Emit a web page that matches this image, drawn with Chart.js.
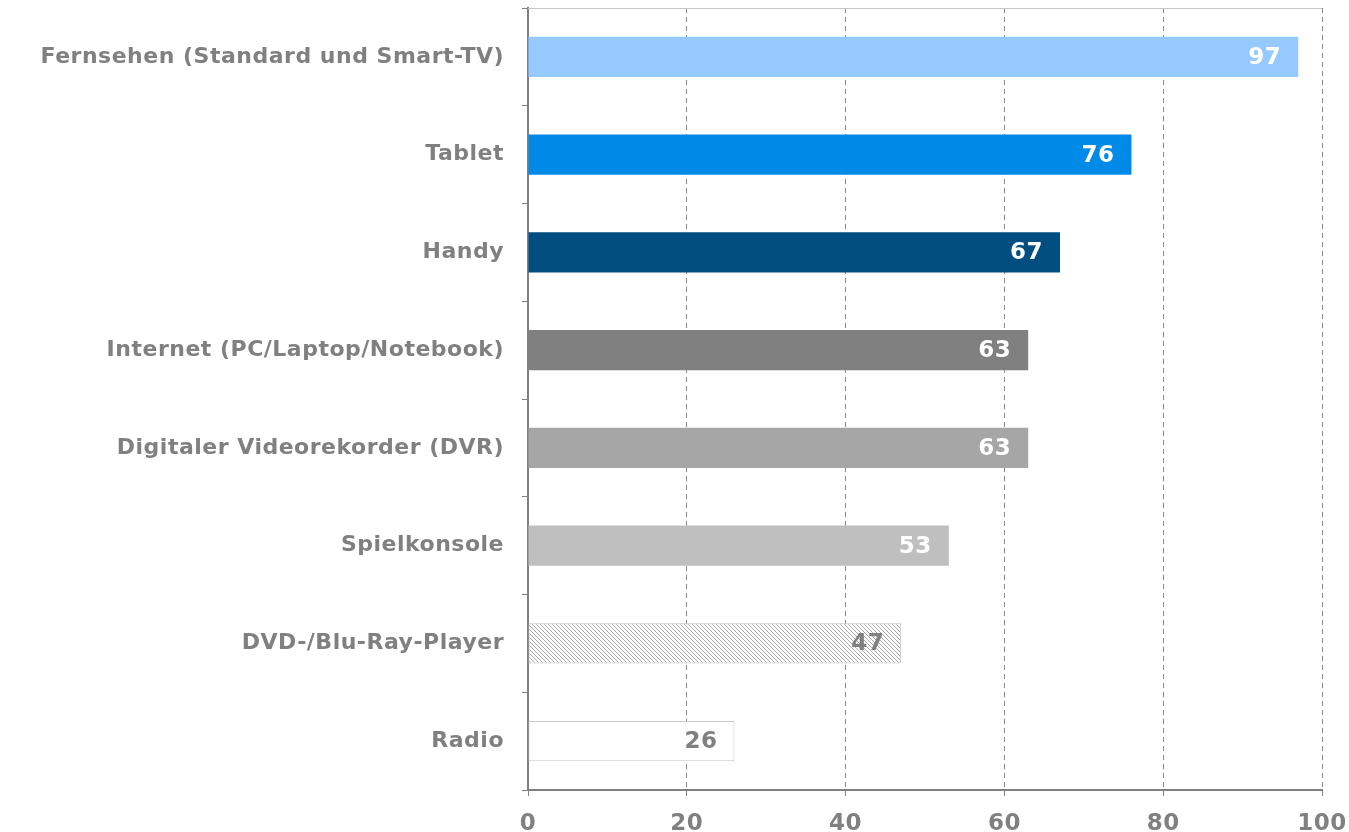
<!DOCTYPE html>
<html>
<head>
<meta charset="utf-8">
<script src="https://cdn.jsdelivr.net/npm/chart.js@4"></script>
<style>
  html, body { margin: 0; padding: 0; background: #fff; }
  #wrap { width: 1349px; height: 832px; position: relative; }
</style>
</head>
<body>
<div id="wrap"><canvas id="chart"></canvas></div>
<script>
const categories = [
  "Fernsehen (Standard und Smart-TV)",
  "Tablet",
  "Handy",
  "Internet (PC/Laptop/Notebook)",
  "Digitaler Videorekorder (DVR)",
  "Spielkonsole",
  "DVD-/Blu-Ray-Player",
  "Radio"
];
const values = [97, 76, 67, 63, 63, 53, 47, 26];
const xTicks = [0, 20, 40, 60, 80, 100];

const gray = "#808080";
const fontFamily = "'DejaVu Sans', Verdana, sans-serif";

// diagonal hatch for the DVD bar
function hatch() {
  const c = document.createElement("canvas");
  c.width = 4; c.height = 4;
  const g = c.getContext("2d");
  g.fillStyle = "#fff";
  g.fillRect(0, 0, 4, 4);
  g.strokeStyle = "#a8a8a8";
  g.lineWidth = 1;
  g.beginPath();
  g.moveTo(0, 0); g.lineTo(4, 4);
  g.moveTo(-1, 3); g.lineTo(1, 5);
  g.moveTo(3, -1); g.lineTo(5, 1);
  g.stroke();
  return g.createPattern(c, "repeat");
}

const barColors = ["#96C9FF", "#008AE8", "#004D80", "#808080", "#A6A6A6", "#BFBFBF", hatch(), "#FFFFFF"];
const borderColors = ["#96C9FF", "#008AE8", "#004D80", "#808080", "#A6A6A6", "#BFBFBF", "#C0C0C0", "#C8C8C8"];
const borderWidths = [0, 0, 0, 0, 0, 0, 1, 1];
const labelColors = ["#fff", "#fff", "#fff", "#fff", "#fff", "#fff", gray, gray];

// a touch wider text, closer to Verdana
const spacing = {
  id: "spacing",
  beforeLayout(chart) { chart.ctx.letterSpacing = "0.5px"; },
  beforeDraw(chart) { chart.ctx.letterSpacing = "0.5px"; }
};

const valueLabels = {
  id: "valueLabels",
  afterDatasetsDraw(chart) {
    const ctx = chart.ctx;
    const meta = chart.getDatasetMeta(0);
    ctx.save();
    ctx.font = "bold 23px " + fontFamily;
    ctx.textAlign = "right";
    ctx.textBaseline = "middle";
    meta.data.forEach((bar, i) => {
      ctx.fillStyle = labelColors[i];
      ctx.fillText(values[i], bar.x - 17, bar.y + 1);
    });
    ctx.restore();
  }
};

const topLine = {
  id: "topLine",
  beforeDatasetsDraw(chart) {
    const a = chart.chartArea;
    const ctx = chart.ctx;
    ctx.save();
    ctx.strokeStyle = "#c8c8c8";
    ctx.lineWidth = 1;
    ctx.beginPath();
    ctx.moveTo(a.left, a.top + 0.5);
    ctx.lineTo(a.right, a.top + 0.5);
    ctx.stroke();
    ctx.restore();
  }
};

let ctx = document.getElementById("chart").getContext("2d");
let chart = new Chart(ctx, {
  type: "bar",
  data: {
    labels: categories,
    datasets: [{
      data: values,
      backgroundColor: barColors,
      borderColor: borderColors,
      borderWidth: borderWidths,
      borderSkipped: false,
      barPercentage: 0.41,
      categoryPercentage: 1
    }]
  },
  options: {
    responsive: true,
    maintainAspectRatio: false,
    animation: false,
    indexAxis: "y",
    layout: { padding: { left: 13, top: 8, right: 27, bottom: 0 } },
    plugins: {
      legend: { display: false },
      tooltip: { enabled: false }
    },
    scales: {
      x: {
        min: 0,
        max: 100,
        afterBuildTicks(scale) { scale.ticks = xTicks.map(v => ({ value: v })); },
        afterFit(scale) {
          scale.height = 42;
          scale.paddingLeft = 0;
          scale.paddingRight = 0;
        },
        grid: { color: "#888", lineWidth: 1, tickLength: 6, tickColor: gray },
        border: { display: true, color: gray, width: 2, dash: [5, 4] },
        ticks: {
          color: gray,
          padding: 14,
          font: { family: fontFamily, size: 23, weight: "bold" }
        }
      },
      y: {
        afterFit(scale) {
          scale.width = 515;
          scale.paddingTop = 0;
          scale.paddingBottom = 0;
        },
        grid: { drawOnChartArea: false, tickLength: 6, color: gray, offset: true },
        border: { display: true, color: gray, width: 2 },
        ticks: {
          color: gray,
          padding: 18,
          font: { family: fontFamily, size: 22, weight: "bold" }
        }
      }
    }
  },
  plugins: [spacing, topLine, valueLabels]
});
</script>
</body>
</html>
